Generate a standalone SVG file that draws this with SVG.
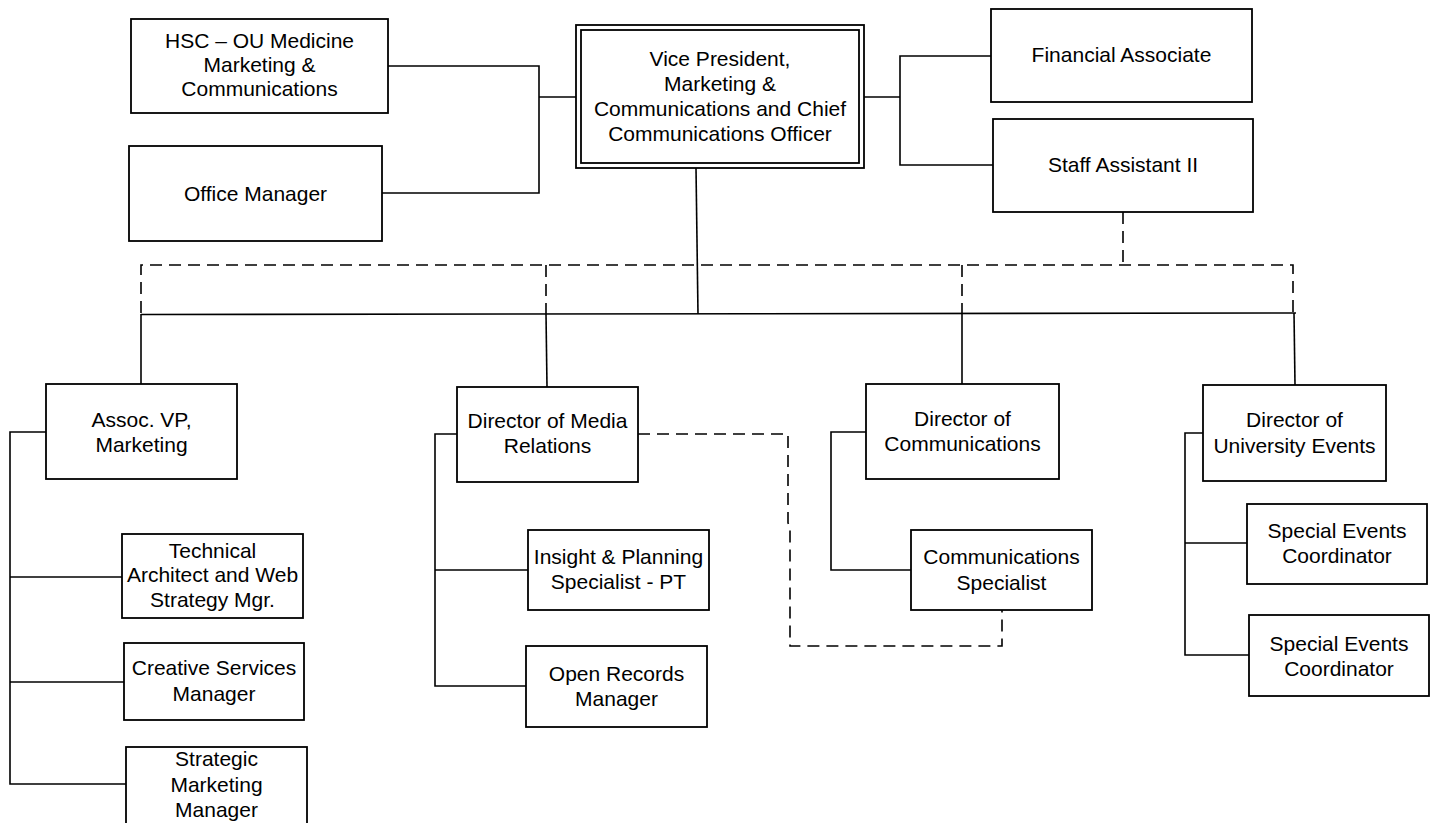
<svg xmlns="http://www.w3.org/2000/svg" width="1435" height="823" viewBox="0 0 1435 823">
<style>
.box{fill:#fff;stroke:#000;stroke-width:1.8}
.ln{fill:none;stroke:#000;stroke-width:1.6}
.dl{fill:none;stroke:#000;stroke-width:1.6;stroke-dasharray:12 7}
text{font-family:"Liberation Sans",Arial,sans-serif;font-size:21px;fill:#000;text-anchor:middle}
</style>
<rect width="1435" height="823" fill="#fff"/>
<g id="connectors">
<polyline class="ln" points="388,66 539,66 539,193 382,193"/>
<line class="ln" x1="539" y1="97" x2="576" y2="97"/>
<polyline class="ln" points="991,56 900,56 900,165 993,165"/>
<line class="ln" x1="864" y1="97" x2="900" y2="97"/>
<line class="ln" x1="696" y1="168" x2="698" y2="314"/>
<line class="ln" x1="141" y1="314.5" x2="1296" y2="313"/>
<line class="ln" x1="141" y1="314" x2="141" y2="384"/>
<line class="ln" x1="546" y1="314" x2="547" y2="387"/>
<line class="ln" x1="962" y1="314" x2="962" y2="384"/>
<line class="ln" x1="1294" y1="313" x2="1295" y2="385"/>
<polyline class="dl" points="1123,212 1123,265"/>
<polyline class="dl" points="141,313 141,265 1293,265 1293,313"/>
<line class="dl" x1="546" y1="265" x2="546" y2="314"/>
<line class="dl" x1="962" y1="265" x2="962" y2="314"/>
<polyline class="ln" points="46,432 10,432 10,784 126,784"/>
<line class="ln" x1="10" y1="577" x2="122" y2="577"/>
<line class="ln" x1="10" y1="682" x2="124" y2="682"/>
<polyline class="ln" points="457,434 435,434 435,686 526,686"/>
<line class="ln" x1="435" y1="570" x2="528" y2="570"/>
<polyline class="dl" points="638,434 788,434 788,523 790,526 790,646 1002,646 1002,610"/>
<polyline class="ln" points="866,432 831,432 831,570 911,570"/>
<polyline class="ln" points="1203,433 1185,433 1185,655 1249,655"/>
<line class="ln" x1="1185" y1="543" x2="1247" y2="543"/>
</g>
<g id="hsc"><rect class="box" x="131" y="19" width="257" height="94"/><text x="259.5" y="48">HSC – OU Medicine</text><text x="259.5" y="72">Marketing &amp;</text><text x="259.5" y="96">Communications</text></g>
<g id="office-manager"><rect class="box" x="129" y="146" width="253" height="95"/><text x="255.5" y="201">Office Manager</text></g>
<g id="vp"><rect class="box" x="576" y="25" width="288" height="143"/><rect class="box" x="581" y="30" width="278" height="133"/><text x="720" y="66">Vice President,</text><text x="720" y="91">Marketing &amp;</text><text x="720" y="116">Communications and Chief</text><text x="720" y="141">Communications Officer</text></g>
<g id="financial-associate"><rect class="box" x="991" y="9" width="261" height="93"/><text x="1121.5" y="62">Financial Associate</text></g>
<g id="staff-assistant"><rect class="box" x="993" y="119" width="260" height="93"/><text x="1123" y="172">Staff Assistant II</text></g>
<g id="assoc-vp"><rect class="box" x="46" y="384" width="191" height="95"/><text x="141.5" y="427">Assoc. VP,</text><text x="141.5" y="452">Marketing</text></g>
<g id="dir-media"><rect class="box" x="457" y="387" width="181" height="95"/><text x="547.5" y="428">Director of Media</text><text x="547.5" y="453">Relations</text></g>
<g id="dir-comm"><rect class="box" x="866" y="384" width="193" height="95"/><text x="962.5" y="426">Director of</text><text x="962.5" y="451">Communications</text></g>
<g id="dir-events"><rect class="box" x="1203" y="385" width="183" height="96"/><text x="1294.5" y="427">Director of</text><text x="1294.5" y="453">University Events</text></g>
<g id="technical"><rect class="box" x="122" y="534" width="181" height="84"/><text x="212.5" y="558">Technical</text><text x="212.5" y="582">Architect and Web</text><text x="212.5" y="607">Strategy Mgr.</text></g>
<g id="creative"><rect class="box" x="124" y="643" width="180" height="77"/><text x="214" y="675">Creative Services</text><text x="214" y="701">Manager</text></g>
<g id="strategic"><rect class="box" x="126" y="747" width="181" height="90"/><text x="216.5" y="766">Strategic</text><text x="216.5" y="792">Marketing</text><text x="216.5" y="817">Manager</text></g>
<g id="insight"><rect class="box" x="528" y="530" width="181" height="80"/><text x="618.5" y="564">Insight &amp; Planning</text><text x="618.5" y="589">Specialist - PT</text></g>
<g id="open-records"><rect class="box" x="526" y="646" width="181" height="81"/><text x="616.5" y="681">Open Records</text><text x="616.5" y="706">Manager</text></g>
<g id="comm-specialist"><rect class="box" x="911" y="530" width="181" height="80"/><text x="1001.5" y="564">Communications</text><text x="1001.5" y="590">Specialist</text></g>
<g id="special-events-1"><rect class="box" x="1247" y="504" width="180" height="80"/><text x="1337" y="538">Special Events</text><text x="1337" y="563">Coordinator</text></g>
<g id="special-events-2"><rect class="box" x="1249" y="615" width="180" height="81"/><text x="1339" y="651">Special Events</text><text x="1339" y="676">Coordinator</text></g>
</svg>
